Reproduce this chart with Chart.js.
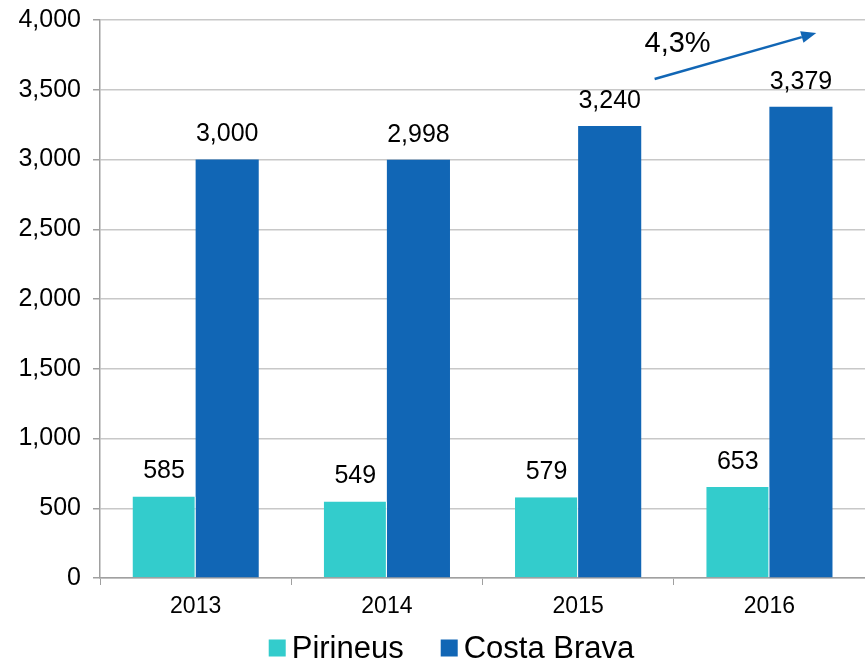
<!DOCTYPE html>
<html>
<head>
<meta charset="utf-8">
<script src="https://cdn.jsdelivr.net/npm/chart.js@4/dist/chart.umd.min.js"></script>
<style>
html,body{margin:0;padding:0;background:#fff;}
#wrap{width:865px;height:662px;position:relative;}
</style>
</head>
<body>
<div id="wrap"><canvas id="c" width="865" height="662"></canvas></div>
<script>
const categories = ['2013', '2014', '2015', '2016'];
const pirineus = [585, 549, 579, 653];
const costaBrava = [3000, 2998, 3240, 3379];
const seriesNames = ['Pirineus', 'Costa Brava'];
const seriesColors = ['#33CCCC', '#1166B5'];
const yTicks = [0, 500, 1000, 1500, 2000, 2500, 3000, 3500, 4000];
const growthLabel = '4,3%';
const arrowFrom = [2.40, 3577];
const arrowTo = [3.245, 3907];
const growthLabelAt = [2.52, 3828];

const FONT = '"Liberation Sans", Arial, sans-serif';
const fmt = v => v.toLocaleString('en-US');

const labelPlugin = {
  id: 'labels',
  afterDatasetsDraw(chart) {
    const ctx = chart.ctx;
    ctx.save();
    ctx.font = '25px ' + FONT;
    ctx.fillStyle = '#000';
    ctx.textAlign = 'center';
    ctx.textBaseline = 'middle';
    chart.data.datasets.forEach((ds, i) => {
      chart.getDatasetMeta(i).data.forEach((bar, j) => {
        ctx.fillText(fmt(ds.data[j]), bar.x, bar.y - 25);
      });
    });
    // arrow annotation
    const xs = chart.scales.x, ys = chart.scales.y;
    const x1 = xs.getPixelForValue(arrowFrom[0]), y1 = ys.getPixelForValue(arrowFrom[1]);
    const x2 = xs.getPixelForValue(arrowTo[0]), y2 = ys.getPixelForValue(arrowTo[1]);
    const ang = Math.atan2(y2 - y1, x2 - x1);
    const hl = 15, hw = 6;
    const bx = x2 - hl * Math.cos(ang), by = y2 - hl * Math.sin(ang);
    ctx.strokeStyle = '#1166B5';
    ctx.fillStyle = '#1166B5';
    ctx.lineWidth = 2.5;
    ctx.beginPath();
    ctx.moveTo(x1, y1);
    ctx.lineTo(bx, by);
    ctx.stroke();
    ctx.beginPath();
    ctx.moveTo(x2, y2);
    ctx.lineTo(bx + hw * Math.sin(ang), by - hw * Math.cos(ang));
    ctx.lineTo(bx - hw * Math.sin(ang), by + hw * Math.cos(ang));
    ctx.closePath();
    ctx.fill();
    ctx.fillStyle = '#000';
    ctx.font = '29px ' + FONT;
    ctx.fillText(growthLabel, xs.getPixelForValue(growthLabelAt[0]), ys.getPixelForValue(growthLabelAt[1]));
    ctx.restore();
  }
};

const legendPlugin = {
  id: 'customLegend',
  afterDraw(chart) {
    const ctx = chart.ctx;
    ctx.save();
    ctx.font = '31px ' + FONT;
    ctx.textBaseline = 'middle';
    ctx.textAlign = 'left';
    const box = 17, gapBoxText = 6, gapItems = 37;
    const items = chart.data.datasets.map(ds => ({ text: ds.label, color: ds.backgroundColor, w: ctx.measureText(ds.label).width }));
    let total = 0;
    items.forEach((it, i) => { total += box + gapBoxText + it.w + (i < items.length - 1 ? gapItems : 0); });
    let x = chart.width / 2 + 19 - total / 2;
    const cy = chart.height - 14;
    items.forEach(it => {
      ctx.fillStyle = it.color;
      ctx.fillRect(x, cy - box / 2, box, box);
      x += box + gapBoxText;
      ctx.fillStyle = '#000';
      ctx.fillText(it.text, x, cy + 1);
      x += it.w + gapItems;
    });
    ctx.restore();
  }
};

new Chart(document.getElementById('c'), {
  type: 'bar',
  data: {
    labels: categories,
    datasets: [
      { label: seriesNames[0], data: pirineus, backgroundColor: seriesColors[0], borderColor: '#ffffff', borderWidth: {right: 1, left: 0, top: 0, bottom: 0}, borderSkipped: false },
      { label: seriesNames[1], data: costaBrava, backgroundColor: seriesColors[1], borderWidth: 0 }
    ]
  },
  options: {
    responsive: false,
    animation: false,
    devicePixelRatio: 1,
    layout: { padding: { top: 20, right: -3, left: 0, bottom: 42 } },
    categoryPercentage: 0.66,
    barPercentage: 1.0,
    plugins: {
      legend: { display: false },
      tooltip: { enabled: false }
    },
    scales: {
      x: {
        afterFit(s) { s.height = 42; s.paddingLeft = 0; s.paddingRight = 0; },
        grid: { display: true, drawOnChartArea: false, drawTicks: true, tickLength: 7, color: '#a0a0a0', offset: true },
        border: { color: '#a0a0a0', width: 1.5 },
        ticks: { font: { family: FONT, size: 23 }, color: '#000', padding: 8 }
      },
      y: {
        min: 0, max: 4000,
        afterBuildTicks(s) { s.ticks = yTicks.map(v => ({ value: v })); },
        afterFit(s) { s.width = 100; s.paddingTop = 0; s.paddingBottom = 0; },
        grid: { color: '#c8c8c8', lineWidth: 1.5, tickLength: 7, tickColor: '#a0a0a0' },
        border: { color: '#a0a0a0', width: 1.5 },
        ticks: { font: { family: FONT, size: 25 }, color: '#000', padding: 12, callback: v => fmt(v) }
      }
    }
  },
  plugins: [labelPlugin, legendPlugin]
});
</script>
</body>
</html>
